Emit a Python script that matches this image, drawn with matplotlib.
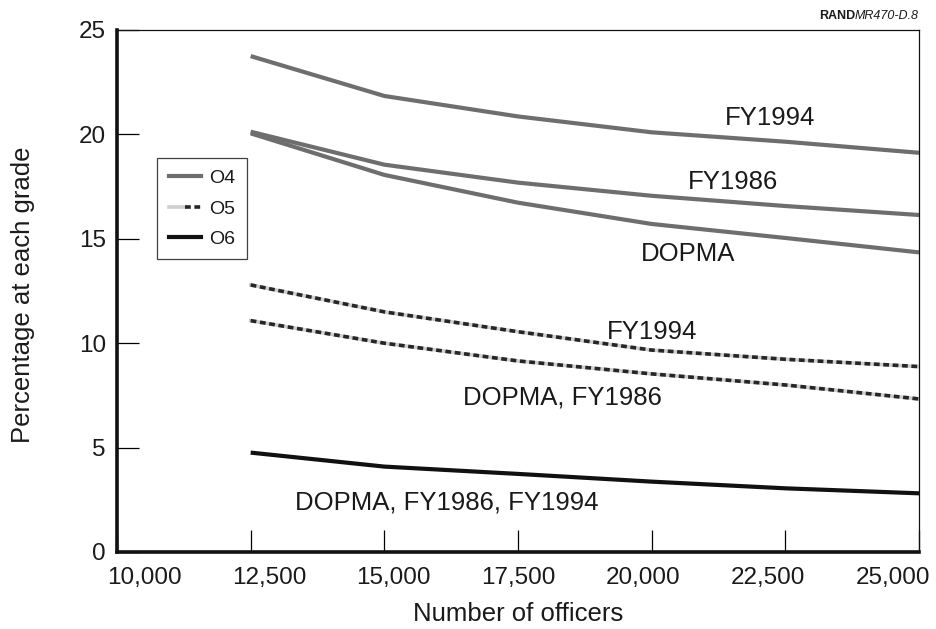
import matplotlib
matplotlib.use("Agg")
import matplotlib.pyplot as plt
from matplotlib.legend_handler import HandlerTuple
from matplotlib.lines import Line2D

plt.rcParams['font.family'] = ['Liberation Sans', 'DejaVu Sans']

# ---- data ----
officers = [12500, 15000, 17500, 20000, 22500, 25000]
o4_fy1994 = [23.75, 21.84, 20.86, 20.10, 19.65, 19.12]
o4_fy1986 = [20.13, 18.55, 17.69, 17.06, 16.57, 16.14]
o4_dopma = [20.05, 18.06, 16.73, 15.71, 15.04, 14.35]
o5_fy1994 = [12.79, 11.50, 10.55, 9.67, 9.23, 8.88]
o5_dopma_fy1986 = [11.08, 10.00, 9.15, 8.53, 8.00, 7.33]
o6_all = [4.76, 4.09, 3.74, 3.37, 3.05, 2.81]

xticks = [10000, 12500, 15000, 17500, 20000, 22500, 25000]
xticklabels = ['10,000', '12,500', '15,000', '17,500', '20,000', '22,500', '25,000']
yticks = [0, 5, 10, 15, 20, 25]

# ---- figure ----
W, H = 937, 629
fig = plt.figure(figsize=(W / 100, H / 100), dpi=100)
ax = fig.add_axes([117 / W, (H - 552) / H, 802 / W, 522 / H])

txt = '#1a1a1a'
gray = '#6e6e6e'
dash_base = '#cfcfcf'
dash_dark = '#262626'

ax.plot(officers, o4_fy1994, color=gray, lw=3.0, solid_capstyle='butt')
ax.plot(officers, o4_fy1986, color=gray, lw=3.0, solid_capstyle='butt')
ax.plot(officers, o4_dopma, color=gray, lw=3.0, solid_capstyle='butt')

for series in (o5_fy1994, o5_dopma_fy1986):
    ax.plot(officers, series, color=dash_base, lw=2.6)
    ax.plot(officers, series, color=dash_dark, lw=2.6, dashes=(1.6, 1.0))

ax.plot(officers, o6_all, color='#111111', lw=3.0, solid_capstyle='butt')

ax.set_xlim(10000, 25000)
ax.set_ylim(0, 25)

# spines
for s in ('left', 'bottom'):
    ax.spines[s].set_linewidth(2.6)
    ax.spines[s].set_color('#111111')
for s in ('top', 'right'):
    ax.spines[s].set_linewidth(0.9)
    ax.spines[s].set_color('#111111')

ax.set_yticks(yticks)
ax.set_yticklabels([str(v) for v in yticks])
ax.tick_params(axis='y', direction='in', length=16, width=0.9, labelsize=17.5,
               labelcolor=txt, pad=8)
ax.set_xticks(xticks)
ax.tick_params(axis='x', direction='in', length=16, width=0.9, labelbottom=False)

# x tick labels are spaced slightly tighter than the ticks in the original
ax2 = ax.twiny()
lo = 10000 - 27 * 15000 / 749
hi = 25000 + 26 * 15000 / 749
ax2.set_xlim(lo, hi)
ax2.xaxis.set_ticks_position('bottom')
ax2.xaxis.set_label_position('bottom')
ax2.set_xticks(xticks)
ax2.set_xticklabels(xticklabels)
ax2.tick_params(axis='x', length=0, labelsize=17.5, labelcolor=txt, pad=10.5,
                top=False, labeltop=False, bottom=True, labelbottom=True)
for s in ax2.spines.values():
    s.set_visible(False)

fig.text(518 / W, 1 - 614 / H, 'Number of officers', ha='center', va='center',
         fontsize=18.5, color=txt)
fig.text(23 / W, 1 - 295 / H, 'Percentage at each grade', ha='center', va='center',
         rotation=90, fontsize=18.5, color=txt)

# annotations
fs = 18.5
ax.text(22213, 20.79, 'FY1994', ha='center', va='center', fontsize=fs, color=txt)
ax.text(21521, 17.72, 'FY1986', ha='center', va='center', fontsize=fs, color=txt)
ax.text(20680, 14.27, 'DOPMA', ha='center', va='center', fontsize=fs, color=txt)
ax.text(20006, 10.54, 'FY1994', ha='center', va='center', fontsize=fs, color=txt)
ax.text(18323, 7.42, 'DOPMA, FY1986', ha='center', va='center', fontsize=fs, color=txt)
ax.text(16172, 2.39, 'DOPMA, FY1986, FY1994', ha='center', va='center', fontsize=fs, color=txt)

# legend
h4 = Line2D([], [], color=gray, lw=3.0)
h5a = Line2D([], [], color=dash_base, lw=2.6)
h5b = Line2D([], [], color=dash_dark, lw=2.6, dashes=(1.6, 1.0))
h6 = Line2D([], [], color='#111111', lw=3.0)
leg = ax.legend([h4, (h5a, h5b), h6], ['O4', 'O5', 'O6'],
                handler_map={tuple: HandlerTuple(ndivide=None, pad=0)},
                loc='upper left', bbox_to_anchor=((157 - 117) / 802, (552 - 158) / 522),
                fontsize=14, frameon=True, fancybox=False, edgecolor='#111111',
                handlelength=1.65, handletextpad=0.45, borderpad=0.6,
                labelspacing=0.65, borderaxespad=0)
leg.get_frame().set_linewidth(0.9)
for t in leg.get_texts():
    t.set_color(txt)

# source tag
tag_t = fig.text(919 / W, 1 - 16 / H, 'MR470-D.8', ha='right', va='center',
                 fontsize=9, style='italic', color=txt)
fig.canvas.draw()
bb = tag_t.get_window_extent()
fig.text(bb.x0 / W, 1 - 16 / H, 'RAND', ha='right', va='center', fontsize=9,
         fontweight='bold', color=txt)

fig.savefig('out.png', dpi=100)
